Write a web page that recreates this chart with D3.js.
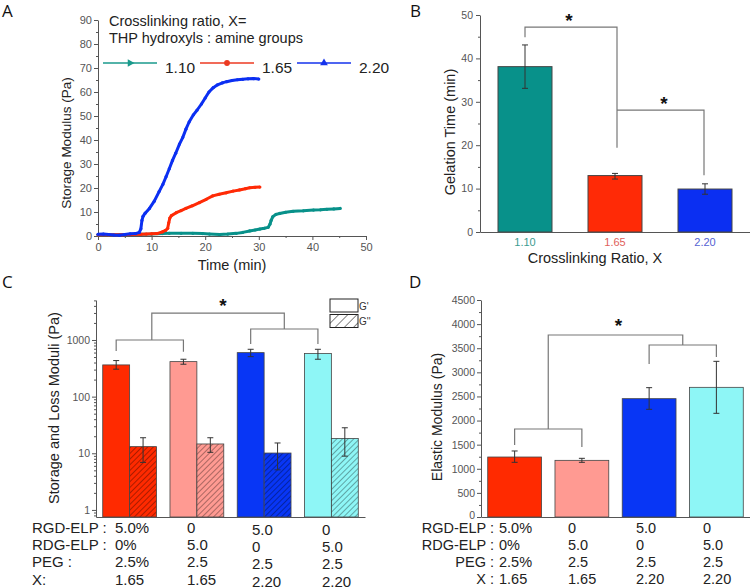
<!DOCTYPE html>
<html><head><meta charset="utf-8">
<script src="https://cdn.jsdelivr.net/npm/d3@7"></script>
<style>
body{margin:0;background:#fff}
svg{display:block}
text{font-family:"Liberation Sans",Arial,sans-serif}
</style>
</head><body>
<svg id="c" width="750" height="588"></svg>
<script>
// ---------------- DATA ----------------
// Panel A: storage modulus (Pa) vs time (min)
const ratioNames = ["1.10", "1.65", "2.20"];
const curve110 = [[0,0.5],[2,0.5],[4,0.5],[6,0.6],[8,0.7],[10,0.8],[12,1.0],[13.3,1.1],[15.5,1.1],[17.7,1.1],[19.5,1.0],[20.8,0.8],[22.7,0.6],[24.2,0.8],[25.8,1.1],[27,1.5],[28.3,2.1],[29.3,2.5],[30.2,2.9],[31.0,3.2],[31.75,3.6],[32.1,5],[32.3,6.5],[32.6,8],[33.2,9],[33.9,9.4],[35,9.9],[36.4,10.3],[38.3,10.5],[40.2,10.8],[41.5,10.9],[42.7,11.1],[44,11.3],[45.2,11.5]];
const curve165 = [[0,0.5],[2,0.5],[4.5,0.5],[6,0.6],[8,0.7],[9,0.8],[10,0.9],[11,1.0],[12,1.7],[12.6,2.3],[13.0,3.2],[13.2,5.5],[13.4,7.5],[13.7,8.5],[14.6,9.7],[15.5,10.6],[16.4,11.5],[17.6,12.6],[18.9,13.9],[20.2,15.3],[21.4,16.7],[22.6,17.4],[23.9,18.0],[25.2,18.7],[26.4,19.2],[27.5,19.7],[28.3,20.1],[29.3,20.3],[30.2,20.4]];
const curve220 = [[0,0.7],[1,0.8],[2,0.6],[3,0.4],[4,0.3],[5,0.6],[6,0.9],[7,1.0],[7.7,1.5],[8.0,3],[8.2,6.5],[8.4,8.2],[8.8,9.5],[9.6,11.5],[10.5,14.5],[11.4,18.5],[12.1,21.5],[12.7,24.7],[13.3,28],[13.9,31.5],[14.5,34.5],[15.2,38.3],[15.8,41],[16.4,44.5],[17.0,47.5],[17.8,50.5],[18.5,52.5],[19.3,55],[20.0,57.5],[20.7,60],[21.5,61.8],[22.3,63],[23.2,63.8],[24.0,64.3],[25.0,64.8],[26,65.1],[27,65.3],[28,65.5],[29,65.6],[30,65.4]];
const aXTicks = [0,10,20,30,40,50];
const aYTicks = [0,10,20,30,40,50,60,70,80,90];

// Panel B: gelation time
const gelTime = [38.1, 13.0, 9.9];
const gelLow  = [33.1, 12.2, 8.7];
const gelHigh = [43.1, 13.5, 11.1];
const bYTicks = [0,10,20,30,40,50];

// Panels C and D: formulations
const formulations = ["F1","F2","F3","F4"];
const gPrime     = [363, 415, 598, 575];
const gPrimeLow  = [305, 373, 508, 457];
const gPrimeHigh = [433, 457, 685, 685];
const gDouble     = [13.1, 14.6, 10.1, 18.3];
const gDoubleLow  = [6.9, 10.4, 5.1, 8.9];
const gDoubleHigh = [18.8, 18.8, 15.2, 28.2];
const cYTicks = [1, 10, 100, 1000];

const elastic     = [1244, 1175, 2454, 2689];
const elasticLow  = [1134, 1134, 2233, 2150];
const elasticHigh = [1369, 1217, 2682, 3228];
const dYTicks = [0,500,1000,1500,2000,2500,3000,3500,4000,4500];

const rowLabels = ["RGD-ELP :", "RDG-ELP :", "PEG :", "X:"];
const rowLabelsD = ["RGD-ELP :", "RDG-ELP :", "PEG :", "X :"];
const rgdRow = ["5.0%", "0", "5.0", "0"];
const rdgRow = ["0%", "5.0", "0", "5.0"];
const pegRow = ["2.5%", "2.5", "2.5", "2.5"];
const xRow   = ["1.65", "1.65", "2.20", "2.20"];

// ---------------- STYLE ----------------
const ratioColors = ["#08918a", "#ff2a06", "#0b2ff2"];
const ratioLineColors = ["#1a9a8c", "#ec3a22", "#1532ec"];
const ratioTickColors = ["#3b9c90", "#e0605a", "#5462d2"];
const formColors = ["#ff2a00", "#ff9a92", "#0836f5", "#8ef6f6"];
const axisCol = "#555";
const bracketCol = "#777";

const svg = d3.select("#c");

function styleAxis(g, fs) {
  g.select(".domain").attr("stroke", axisCol).attr("stroke-width", 1);
  g.selectAll(".tick line").attr("stroke", axisCol);
  g.selectAll(".tick text").attr("fill", axisCol).style("font-size", fs + "px")
    .style("font-family", '"Liberation Sans",Arial,sans-serif');
}

// hatch patterns
const defs = svg.append("defs");
formColors.forEach((c, i) => {
  const p = defs.append("pattern").attr("id", "hatch" + i)
    .attr("patternUnits", "userSpaceOnUse").attr("width", 4).attr("height", 4)
    .attr("patternTransform", "rotate(45)");
  p.append("rect").attr("width", 4).attr("height", 4).attr("fill", c);
  p.append("line").attr("x1", 0).attr("y1", 0).attr("x2", 0).attr("y2", 4)
    .attr("stroke", "rgba(0,0,0,0.6)").attr("stroke-width", 1.1);
});
{
  const p = defs.append("pattern").attr("id", "hatchLegend")
    .attr("patternUnits", "userSpaceOnUse").attr("width", 6.5).attr("height", 6.5)
    .attr("patternTransform", "rotate(45)");
  p.append("rect").attr("width", 6.5).attr("height", 6.5).attr("fill", "#fff");
  p.append("line").attr("x1", 0).attr("y1", 0).attr("x2", 0).attr("y2", 6.5)
    .attr("stroke", "#222").attr("stroke-width", 1.1);
}

function panelLetter(t, x, y) {
  svg.append("text").attr("x", x).attr("y", y).text(t)
    .style("font-size", "17px").attr("fill", "#111")
    .style("font-family", '"Open Sans","Liberation Sans",sans-serif');
}
function yTitle(t, cx, cy, fs) {
  svg.append("text").attr("transform", `translate(${cx},${cy}) rotate(-90)`)
    .attr("text-anchor", "middle").attr("dominant-baseline", "central")
    .style("font-size", fs + "px").attr("fill", "#222").text(t);
}
function star(x, y) {
  svg.append("text").attr("x", x).attr("y", y + 0.575 * 19).attr("text-anchor", "middle")
    .style("font-size", "19px").style("font-weight", "bold").attr("fill", "#111").text("*");
}
function errBar(g, x, y1, y2, cap) {
  g.append("line").attr("x1", x).attr("x2", x).attr("y1", y1).attr("y2", y2)
    .attr("stroke", "#333").attr("stroke-width", 1);
  [y1, y2].forEach(y => g.append("line").attr("x1", x - cap).attr("x2", x + cap)
    .attr("y1", y).attr("y2", y).attr("stroke", "#333").attr("stroke-width", 1));
}
function bracketPath(pts) {
  const p = d3.path();
  p.moveTo(pts[0][0], pts[0][1]);
  pts.slice(1).forEach(q => p.lineTo(q[0], q[1]));
  svg.append("path").attr("d", p.toString()).attr("fill", "none")
    .attr("stroke", bracketCol).attr("stroke-width", 1.2);
}

// ---------------- PANEL A ----------------
{
  const x = d3.scaleLinear().domain([0, 50]).range([98, 366]);
  const y = d3.scaleLinear().domain([0, 90]).range([236, 20]);
  const gx = svg.append("g").attr("transform", "translate(0,236)")
    .call(d3.axisBottom(x).tickValues(aXTicks).tickSize(4).tickSizeOuter(0).tickPadding(3));
  styleAxis(gx, 11);
  const gxm = svg.append("g").attr("transform", "translate(0,236)")
    .call(d3.axisBottom(x).tickValues(d3.range(5, 50, 10)).tickSize(2).tickFormat(""));
  gxm.select(".domain").remove(); gxm.selectAll("line").attr("stroke", axisCol);
  const gy = svg.append("g").attr("transform", "translate(98,0)")
    .call(d3.axisLeft(y).tickValues(aYTicks).tickSize(4).tickSizeOuter(0).tickPadding(2));
  styleAxis(gy, 11);
  const gym = svg.append("g").attr("transform", "translate(98,0)")
    .call(d3.axisLeft(y).tickValues(d3.range(5, 90, 10)).tickSize(2).tickFormat(""));
  gym.select(".domain").remove(); gym.selectAll("line").attr("stroke", axisCol);

  const line = d3.line().x(d => x(d[0])).y(d => y(d[1]));
  [curve110, curve165, curve220].forEach((c, i) => {
    svg.append("path").datum(c).attr("d", line).attr("fill", "none")
      .attr("stroke", ratioColors[i]).attr("stroke-width", 3).attr("stroke-linejoin", "round");
    svg.append("g").selectAll("circle").data(c).join("circle")
      .attr("cx", d => x(d[0])).attr("cy", d => y(d[1])).attr("r", 1.6).attr("fill", ratioColors[i]);
  });

  yTitle("Storage Modulus (Pa)", 66, 143, 13.5);
  svg.append("text").attr("x", 232).attr("y", 270).attr("text-anchor", "middle")
    .style("font-size", "14.5px").attr("fill", "#222").text("Time (min)");
  svg.append("text").attr("x", 109).attr("y", 25.5).style("font-size", "14.5px").attr("fill", "#222")
    .text("Crosslinking ratio, X=");
  svg.append("text").attr("x", 109).attr("y", 42.5).style("font-size", "14.5px").attr("fill", "#222")
    .text("THP hydroxyls : amine groups");

  // legend
  const legX = [103, 200, 297];
  const syms = [d3.symbolTriangle, d3.symbolCircle, d3.symbolTriangle];
  const rot = [90, 0, 0];
  ratioNames.forEach((n, i) => {
    const lx = legX[i];
    svg.append("line").attr("x1", lx).attr("x2", lx + 54).attr("y1", 63).attr("y2", 63)
      .attr("stroke", ratioLineColors[i]).attr("stroke-width", 1.3);
    svg.append("path").attr("d", d3.symbol().type(syms[i]).size(26)())
      .attr("transform", `translate(${lx + 27},63) rotate(${rot[i]})`).attr("fill", ratioLineColors[i]);
    svg.append("text").attr("x", lx + 62).attr("y", 73).style("font-size", "15.5px")
      .attr("fill", "#222").text(n);
  });
}

// ---------------- PANEL B ----------------
{
  const x = d3.scaleBand().domain(ratioNames).range([480, 750]).paddingInner(0.4).paddingOuter(0.2);
  const y = d3.scaleLinear().domain([0, 50]).range([232, 15]);
  svg.append("g").selectAll("rect").data(gelTime).join("rect")
    .attr("x", (d, i) => x(ratioNames[i])).attr("width", x.bandwidth())
    .attr("y", d => y(d)).attr("height", d => 232 - y(d))
    .attr("fill", (d, i) => ratioColors[i]).attr("stroke", "#444").attr("stroke-width", 1);
  const eg = svg.append("g");
  gelTime.forEach((d, i) => errBar(eg, x(ratioNames[i]) + x.bandwidth() / 2, y(gelHigh[i]), y(gelLow[i]), 3));

  const gx = svg.append("g").attr("transform", "translate(0,232)")
    .call(d3.axisBottom(x).tickSize(0).tickPadding(6));
  styleAxis(gx, 11);
  gx.selectAll(".tick text").attr("fill", (d, i) => ratioTickColors[i]);
  const gy = svg.append("g").attr("transform", "translate(480,0)")
    .call(d3.axisLeft(y).tickValues(bYTicks).tickSize(4).tickSizeOuter(0).tickPadding(3));
  styleAxis(gy, 10.5);
  const gym = svg.append("g").attr("transform", "translate(480,0)")
    .call(d3.axisLeft(y).tickValues(d3.range(5, 50, 10)).tickSize(2).tickFormat(""));
  gym.select(".domain").remove(); gym.selectAll("line").attr("stroke", axisCol);

  yTitle("Gelation Time (min)", 450, 132, 14.5);
  svg.append("text").attr("x", 595).attr("y", 263).attr("text-anchor", "middle")
    .style("font-size", "14.5px").attr("fill", "#222").text("Crosslinking Ratio, X");

  const cx = i => x(ratioNames[i]) + x.bandwidth() / 2;
  bracketPath([[cx(0), y(44.9)], [cx(0), y(47.2)], [cx(1) + 2, y(47.2)], [cx(1) + 2, y(19.4)]]);
  bracketPath([[cx(1) + 2, y(28.1)], [cx(2) - 1, y(28.1)], [cx(2) - 1, y(13.1)]]);
  star((cx(0) + cx(1)) / 2 - 1, y(49.8));
  star((cx(1) + cx(2)) / 2 + 4, y(30.6));
}

// ---------------- PANEL C ----------------
{
  const x = d3.scaleBand().domain(formulations).range([96, 365]).paddingInner(0.2).paddingOuter(0.1);
  const sub = d3.scaleBand().domain(["G'", "G''"]).range([0, x.bandwidth()]);
  const y = d3.scaleLog().domain([0.75, 5080]).range([517, 300]);
  const g = svg.append("g");
  formulations.forEach((f, i) => {
    g.append("rect").attr("x", x(f)).attr("width", sub.bandwidth())
      .attr("y", y(gPrime[i])).attr("height", 517 - y(gPrime[i]))
      .attr("fill", formColors[i]).attr("stroke", "#444").attr("stroke-width", 0.8);
    g.append("rect").attr("x", x(f) + sub("G''")).attr("width", sub.bandwidth())
      .attr("y", y(gDouble[i])).attr("height", 517 - y(gDouble[i]))
      .attr("fill", `url(#hatch${i})`).attr("stroke", "#444").attr("stroke-width", 0.8);
    errBar(g, x(f) + sub.bandwidth() / 2, y(gPrimeHigh[i]), y(gPrimeLow[i]), 3);
    errBar(g, x(f) + sub("G''") + sub.bandwidth() / 2, y(gDoubleHigh[i]), y(gDoubleLow[i]), 3);
  });
  const gx = svg.append("g").attr("transform", "translate(0,517)")
    .call(d3.axisBottom(x).tickSize(0).tickFormat(""));
  styleAxis(gx, 10);
  const gy = svg.append("g").attr("transform", "translate(96,0)")
    .call(d3.axisLeft(y).tickValues(cYTicks).tickFormat(d3.format("d")).tickSize(4).tickSizeOuter(0).tickPadding(2));
  styleAxis(gy, 10.5);
  const minor = y.ticks().filter(v => !cYTicks.includes(v));
  const gym = svg.append("g").attr("transform", "translate(96,0)")
    .call(d3.axisLeft(y).tickValues(minor).tickSize(2).tickFormat(""));
  gym.select(".domain").remove(); gym.selectAll("line").attr("stroke", axisCol);

  yTitle("Storage and Loss Moduli (Pa)", 54, 408, 14.5);

  const cx = i => x(formulations[i]) + sub.bandwidth() / 2;
  const m1 = (cx(0) + cx(1)) / 2 + 2, m2 = (cx(2) + cx(3)) / 2;
  bracketPath([[cx(0), y(640)], [cx(0), y(1000)], [cx(1), y(1000)], [cx(1), y(620)]]);
  bracketPath([[cx(2), y(850)], [cx(2), y(1563)], [cx(3), y(1563)], [cx(3), y(850)]]);
  bracketPath([[m1, y(1000)], [m1, y(2985)], [m2, y(2985)], [m2, y(1563)]]);
  star((m1 + m2) / 2 + 5, y(4860));

  // legend
  svg.append("rect").attr("x", 330).attr("y", 299).attr("width", 28).attr("height", 13)
    .attr("fill", "#fff").attr("stroke", "#222").attr("stroke-width", 1);
  svg.append("rect").attr("x", 330).attr("y", 314.5).attr("width", 28).attr("height", 13)
    .attr("fill", "url(#hatchLegend)").attr("stroke", "#222").attr("stroke-width", 1);
  svg.append("text").attr("x", 359).attr("y", 310).style("font-size", "10px").attr("fill", "#333").text("G'");
  svg.append("text").attr("x", 359).attr("y", 325).style("font-size", "10px").attr("fill", "#333").text("G''");

  // table
  const rows = [rgdRow, rdgRow, pegRow, xRow];
  const rowY = [533, 550, 567, 585];
  const colX = [115, 187, 252, 322];
  rows.forEach((r, j) => {
    svg.append("text").attr("x", 32).attr("y", rowY[j]).style("font-size", "15px")
      .attr("fill", "#222").text(rowLabels[j]);
    r.forEach((v, i) => svg.append("text").attr("x", colX[i]).attr("y", rowY[j] + (i >= 2 ? 1.5 : 0))
      .style("font-size", "15px").attr("fill", "#222").text(v));
  });
}

// ---------------- PANEL D ----------------
{
  const x = d3.scaleBand().domain(formulations).range([481, 750]).paddingInner(0.2).paddingOuter(0.1);
  const y = d3.scaleLinear().domain([0, 4500]).range([517, 300]);
  const g = svg.append("g");
  formulations.forEach((f, i) => {
    g.append("rect").attr("x", x(f)).attr("width", x.bandwidth())
      .attr("y", y(elastic[i])).attr("height", 517 - y(elastic[i]))
      .attr("fill", formColors[i]).attr("stroke", "#444").attr("stroke-width", 0.8);
    errBar(g, x(f) + x.bandwidth() / 2, y(elasticHigh[i]), y(elasticLow[i]), 3);
  });
  const gx = svg.append("g").attr("transform", "translate(0,517)")
    .call(d3.axisBottom(x).tickSize(0).tickFormat(""));
  styleAxis(gx, 10);
  const gy = svg.append("g").attr("transform", "translate(481,0)")
    .call(d3.axisLeft(y).tickValues(dYTicks).tickFormat(d3.format("d")).tickSize(4).tickSizeOuter(0).tickPadding(2));
  styleAxis(gy, 10.5);
  gy.selectAll(".tick text").filter(d => d === 0).attr("dy", "0.1em");
  const gym = svg.append("g").attr("transform", "translate(481,0)")
    .call(d3.axisLeft(y).tickValues(d3.range(250, 4500, 500)).tickSize(2).tickFormat(""));
  gym.select(".domain").remove(); gym.selectAll("line").attr("stroke", axisCol);

  yTitle("Elastic Modulus (Pa)", 437, 417, 14);

  const cx = i => x(formulations[i]) + x.bandwidth() / 2;
  const m1 = (cx(0) + cx(1)) / 2, m2 = (cx(2) + cx(3)) / 2;
  bracketPath([[cx(0), y(1493)], [cx(0), y(1825)], [cx(1), y(1825)], [cx(1), y(1452)]]);
  bracketPath([[cx(2), y(3173)], [cx(2), y(3567)], [cx(3), y(3567)], [cx(3), y(3318)]]);
  bracketPath([[m1, y(1825)], [m1, y(3774)], [m2, y(3774)], [m2, y(3567)]]);
  star((m1 + m2) / 2 + 3, y(4065));

  const rows = [rgdRow, rdgRow, pegRow, xRow];
  const rowY = [533, 549.5, 567, 584];
  const colX = [499, 568, 636, 703];
  rows.forEach((r, j) => {
    svg.append("text").attr("x", 494).attr("y", rowY[j]).attr("text-anchor", "end")
      .style("font-size", "14.5px").attr("fill", "#222").text(rowLabelsD[j]);
    r.forEach((v, i) => svg.append("text").attr("x", colX[i]).attr("y", rowY[j])
      .style("font-size", "14.5px").attr("fill", "#222").text(v));
  });
}

panelLetter("A", 2, 17);
panelLetter("B", 410, 17);
panelLetter("C", 2, 288);
panelLetter("D", 409, 288);
</script>
</body></html>
